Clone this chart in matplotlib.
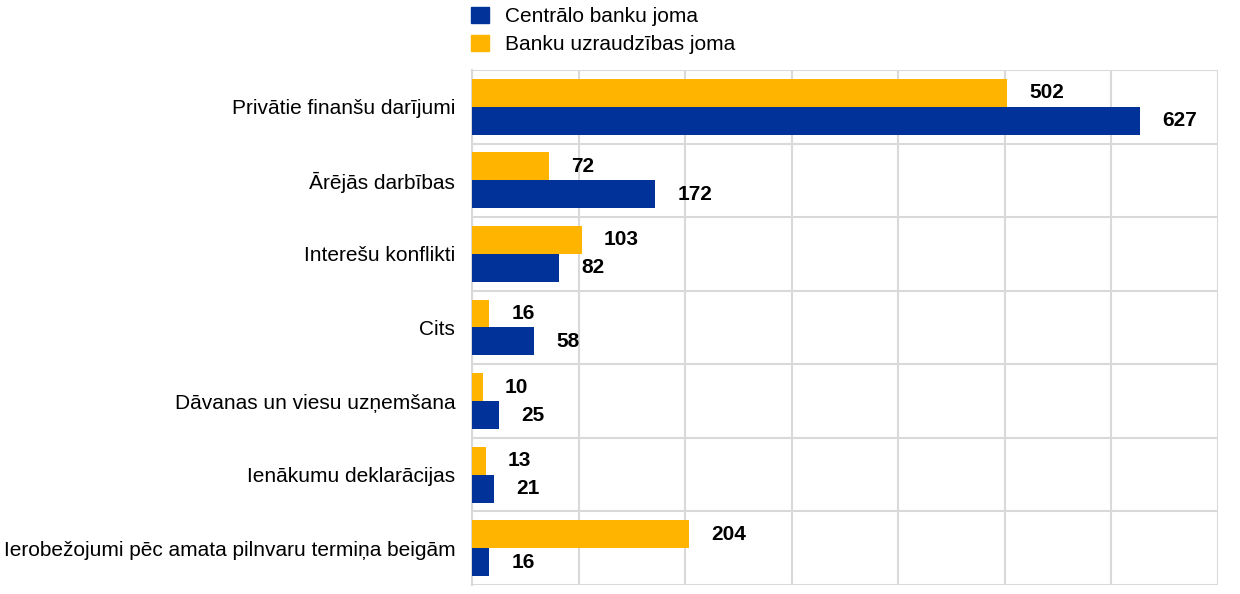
import numpy as np
import matplotlib.pyplot as plt
from matplotlib.patches import Patch

plt.rcParams['font.family'] = ['Liberation Sans', 'DejaVu Sans']

categories = ['Privātie finanšu darījumi', 'Ārējās darbības', 'Interešu konflikti', 'Cits',
              'Dāvanas un viesu uzņemšana', 'Ienākumu deklarācijas',
              'Ierobežojumi pēc amata pilnvaru termiņa beigām']
centralo = [627, 172, 82, 58, 25, 21, 16]
uzraudzibas = [502, 72, 103, 16, 10, 13, 204]

blue = '#003299'
yellow = '#FFB400'

fig = plt.figure(figsize=(12.4, 5.94), dpi=100)
ax = fig.add_axes([0.3806, 0.0152, 0.6017, 0.867])

y = np.arange(len(categories))
h = 0.38
ax.barh(y - h / 2, uzraudzibas, height=h, color=yellow, zorder=3)
ax.barh(y + h / 2, centralo, height=h, color=blue, zorder=3)

for yi, v in zip(y, uzraudzibas):
    ax.annotate(str(v), (v, yi - h / 2), xytext=(16, 0), textcoords='offset points',
                va='center', ha='left', fontsize=15, fontweight='bold')
for yi, v in zip(y, centralo):
    ax.annotate(str(v), (v, yi + h / 2), xytext=(16, 0), textcoords='offset points',
                va='center', ha='left', fontsize=15, fontweight='bold')

ax.set_xlim(0, 700)
ax.set_ylim(len(categories) - 0.5, -0.5)
ax.set_xticks(np.arange(0, 701, 100))
ax.set_xticklabels([])
ax.set_yticks(y)
ax.set_yticklabels(categories, fontsize=15)
ax.set_yticks(np.arange(-0.5, len(categories), 1), minor=True)
ax.tick_params(axis='both', which='both', length=0)
ax.tick_params(axis='y', pad=12)
ax.grid(axis='x', which='major', color='#d9d9d9', linewidth=1.5, zorder=0)
ax.grid(axis='y', which='minor', color='#d9d9d9', linewidth=1.5, zorder=0)
for s in ax.spines.values():
    s.set_visible(False)
ax.spines['left'].set_visible(True)
ax.spines['left'].set_color('#d9d9d9')
ax.spines['left'].set_linewidth(1.5)

handles = [Patch(color=blue, label='Centrālo banku joma'),
           Patch(color=yellow, label='Banku uzraudzības joma')]
fig.legend(handles=handles, loc='upper left', bbox_to_anchor=(0.365, 1.02), frameon=False,
           fontsize=15, handlelength=0.85, handleheight=0.85, handletextpad=0.75,
           labelspacing=0.4)

fig.savefig('out.png', dpi=100)
